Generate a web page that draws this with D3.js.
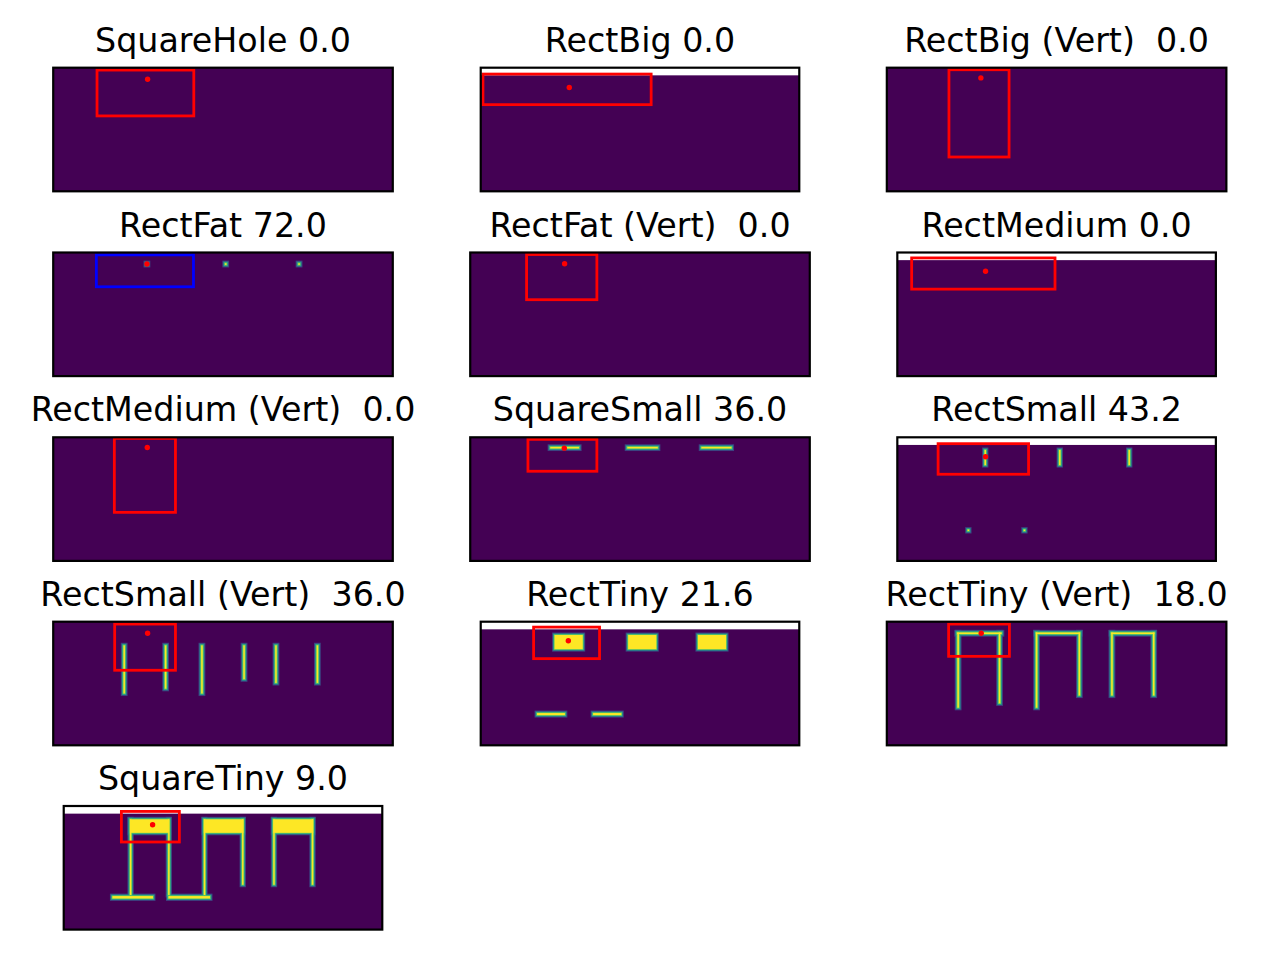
<!DOCTYPE html>
<html>
<head>
<meta charset="utf-8">
<script src="https://cdn.jsdelivr.net/npm/d3@7"></script>
<style>
  body { margin: 0; background: #fff; }
  svg { display: block; }
  .title { font-family: 'DejaVu Sans', sans-serif; font-size: 33.3px; fill: #000; white-space: pre; }
</style>
</head>
<body>
<svg id="chart" width="1280" height="960"></svg>
<script>
// panel names and their scores (title = name + score)
const names = ['SquareHole', 'RectBig', 'RectBig (Vert)', 'RectFat', 'RectFat (Vert)', 'RectMedium',
  'RectMedium (Vert)', 'SquareSmall', 'RectSmall', 'RectSmall (Vert)', 'RectTiny', 'RectTiny (Vert)', 'SquareTiny'];
const scores = [0.0, 0.0, 0.0, 72.0, 0.0, 0.0, 0.0, 36.0, 43.2, 36.0, 21.6, 18.0, 9.0];

// top of the y range in image rows (box pokes above the image -> white band)
const yTops = [-0.5, -2.9, -0.5, -0.5, -0.5, -2.9, -0.5, -0.5, -2.9, -0.5, -2.9, -0.5, -2.9];

// search box per panel [x0, x1, y0, y1] in image pixels
const boxes = [
  [12.4, 40.9, 0.2, 13.7], [0.2, 53.0, -0.9, 8.7], [17.8, 35.5, 0.1, 25.8],
  [12.2, 40.8, 0.2, 9.6], [16.1, 36.8, 0.1, 13.4], [4.0, 49.0, -1.2, 8.6],
  [17.5, 35.5, -0.2, 21.6], [16.5, 36.8, 0.1, 9.5], [12.3, 40.7, -0.9, 8.7],
  [17.6, 35.5, 0.2, 13.8], [16.1, 36.8, -1.2, 8.7], [17.7, 35.6, 0.2, 9.7],
  [17.6, 35.8, -1.2, 8.4]
];
const boxColors = ['red', 'red', 'red', 'blue', 'red', 'red', 'red', 'red', 'red', 'red', 'red', 'red', 'red'];

// target point per panel [x, y]
const targets = [
  [27.3, 2.9], [27.3, 3.3], [27.2, 2.5], [27.1, 2.9], [27.3, 2.8], [27.2, 3.0], [27.2, 2.5],
  [27.2, 2.7], [27.2, 3.2], [27.3, 2.9], [27.0, 3.1], [27.3, 2.9], [27.4, 3.0]
];

// lit pixel regions per panel [x0, x1, y0, y1]
const shapes = [
  [], [], [],
  [[26.6, 27.6, 2.4, 3.4], [49.8, 50.8, 2.4, 3.4], [71.4, 72.4, 2.4, 3.4]],
  [], [], [],
  [[22.8, 31.8, 2.05, 3.05], [45.5, 55.0, 2.05, 3.05], [67.3, 76.7, 2.05, 3.05]],
  [[26.6, 27.6, 0.8, 6.1], [50.0, 51.0, 0.8, 6.1], [71.8, 72.8, 0.8, 6.1],
   [21.3, 22.3, 25.8, 26.8], [38.9, 39.9, 25.8, 26.8]],
  [[19.9, 20.9, 6.2, 20.9], [32.1, 33.1, 6.2, 19.5], [42.8, 43.8, 6.2, 20.9],
   [55.2, 56.2, 6.2, 16.7], [64.6, 65.6, 6.2, 17.8], [76.8, 77.8, 6.2, 17.8]],
  [[22.4, 31.8, 1.0, 6.0], [45.5, 54.9, 1.0, 6.0], [67.4, 76.8, 1.0, 6.0],
   [16.9, 26.2, 25.5, 26.7], [34.5, 43.9, 25.5, 26.7]],
  [[19.9, 33.6, 2.4, 3.4], [20.0, 21.0, 2.4, 25.1], [32.2, 33.2, 2.4, 23.8],
   [43.1, 56.7, 2.4, 3.4], [43.1, 44.1, 2.4, 25.1], [55.7, 56.7, 2.4, 21.5],
   [65.3, 78.6, 2.4, 3.4], [65.3, 66.3, 2.4, 21.5], [77.6, 78.6, 2.4, 21.5]],
  [[20.0, 32.8, 1.0, 5.8], [20.0, 21.0, 1.0, 25.3], [32.0, 33.0, 1.0, 25.3],
   [14.5, 27.8, 25.1, 26.4], [32.1, 45.7, 25.1, 26.4],
   [43.2, 56.2, 1.0, 5.8], [43.2, 44.2, 1.0, 25.3], [55.2, 56.2, 1.0, 22.1],
   [65.0, 78.1, 1.0, 5.8], [65.0, 66.0, 1.0, 22.1], [77.1, 78.1, 1.0, 22.1]]
];

const imgW = 100, imgBottom = 35.9;
const axH = 123.6;
const colCenters = [223, 640, 1056.6];
const rowTops = [67.7, 252.5, 437.3, 621.7, 806];

// viridis-ish blur rings, outside -> inside (pad in pixel units)
const layers = [
  { pad: 0.5, fill: '#3b528b', opacity: 0.8 },
  { pad: 0.2, fill: '#21918c', opacity: 1 },
  { pad: -0.05, fill: '#5ec962', opacity: 1 },
  { pad: -0.28, fill: '#fde725', opacity: 1 }
];

const svg = d3.select('#chart');
const defs = svg.append('defs');

names.forEach((name, i) => {
  const col = i % 3, row = Math.floor(i / 3);
  const s = axH / (imgBottom - yTops[i]);
  const w = s * imgW;
  const left = colCenters[col] - w / 2, top = rowTops[row];

  const x = d3.scaleLinear().domain([-0.5, imgW - 0.5]).range([left, left + w]);
  const y = d3.scaleLinear().domain([yTops[i], imgBottom]).range([top, top + axH]);

  const g = svg.append('g').attr('class', 'panel panel-' + i);

  defs.append('clipPath').attr('id', 'clip-' + i)
    .append('rect')
    .attr('x', x(-0.5)).attr('y', y(-0.5))
    .attr('width', x(imgW - 0.5) - x(-0.5))
    .attr('height', y(imgBottom) - y(-0.5));

  // image background
  g.append('rect')
    .attr('x', x(-0.5)).attr('y', y(-0.5))
    .attr('width', x(imgW - 0.5) - x(-0.5))
    .attr('height', y(imgBottom) - y(-0.5))
    .attr('fill', '#440154');

  const img = g.append('g').attr('clip-path', `url(#clip-${i})`);
  layers.forEach(l => {
    img.append('g').selectAll('rect')
      .data(shapes[i])
      .join('rect')
      .attr('x', d => x(d[0] - l.pad))
      .attr('y', d => y(d[2] - l.pad))
      .attr('width', d => Math.max(0, x(d[1] + l.pad) - x(d[0] - l.pad)))
      .attr('height', d => Math.max(0, y(d[3] + l.pad) - y(d[2] - l.pad)))
      .attr('fill', l.fill)
      .attr('opacity', l.opacity);
  });

  // search box + target
  const b = boxes[i];
  g.append('rect')
    .attr('x', x(b[0])).attr('y', y(b[2]))
    .attr('width', x(b[1]) - x(b[0]))
    .attr('height', y(b[3]) - y(b[2]))
    .attr('fill', 'none')
    .attr('stroke', boxColors[i])
    .attr('stroke-width', 2.8);

  g.append('circle')
    .attr('cx', x(targets[i][0]))
    .attr('cy', y(targets[i][1]))
    .attr('r', 2.7)
    .attr('fill', 'red');

  // spines
  g.append('rect')
    .attr('x', left).attr('y', top)
    .attr('width', w).attr('height', axH)
    .attr('fill', 'none')
    .attr('stroke', '#000')
    .attr('stroke-width', 2.2);

  const sep = name.endsWith(')') ? '  ' : ' ';
  g.append('text')
    .attr('class', 'title')
    .attr('x', colCenters[col])
    .attr('y', top - 16)
    .attr('text-anchor', 'middle')
    .text(name + sep + scores[i].toFixed(1));
});
</script>
</body>
</html>
